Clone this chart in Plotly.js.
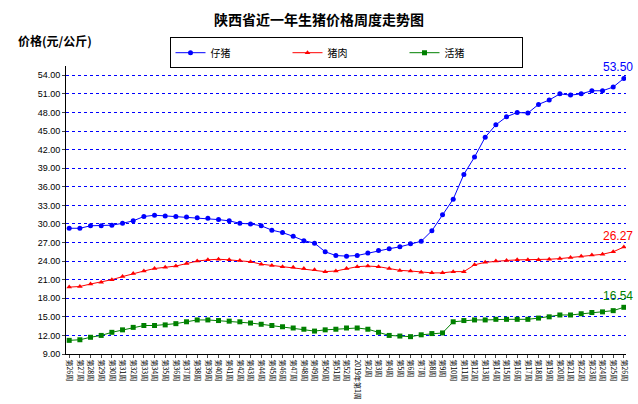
<!DOCTYPE html>
<html><head><meta charset="utf-8">
<script src="https://cdn.plot.ly/plotly-3.0.1.min.js"></script>
<style>body{margin:0}#chart{width:638px;height:404px}</style>
</head><body><div id="chart"></div>
<script>
// Week labels: 第26周..第52周, 2019年第1周, 第2周..第26周
const weeks = [];
for (let w = 26; w <= 52; w++) weeks.push("第" + w + "周");
weeks.push("2019年第1周");
for (let w = 2; w <= 26; w++) weeks.push("第" + w + "周");

const piglet = [29.3,29.3,29.7,29.7,29.8,30.1,30.5,31.2,31.4,31.3,31.2,31.1,31.0,30.9,30.7,30.5,30.1,30.0,29.7,29.0,28.6,28.0,27.3,26.9,25.5,24.9,24.8,24.9,25.3,25.7,26.0,26.3,26.8,27.2,28.9,31.5,34.0,38.0,40.8,44.0,46.0,47.3,48.0,47.9,49.3,50.0,51.0,50.8,51.0,51.5,51.5,52.1,53.5];
const pork = [19.8,19.9,20.3,20.6,21.0,21.5,22.0,22.4,22.8,23.0,23.2,23.6,24.0,24.2,24.3,24.2,24.1,23.9,23.5,23.3,23.1,23.0,22.8,22.6,22.3,22.4,22.8,23.1,23.2,23.1,22.8,22.5,22.4,22.2,22.1,22.1,22.3,22.3,23.4,23.8,24.0,24.1,24.2,24.2,24.2,24.3,24.4,24.6,24.8,25.0,25.1,25.5,26.27];
const hog = [11.2,11.3,11.7,12.0,12.5,12.9,13.3,13.6,13.6,13.7,13.9,14.2,14.5,14.5,14.4,14.3,14.2,14.0,13.8,13.6,13.4,13.2,13.0,12.7,12.9,13.0,13.2,13.2,13.0,12.5,12.0,11.9,11.8,12.1,12.3,12.4,14.2,14.4,14.5,14.5,14.6,14.6,14.6,14.6,14.8,15.0,15.3,15.3,15.5,15.7,15.8,16.0,16.54];

const yTicks = [];
for (let v = 9; v <= 54; v += 3) yTicks.push(v);

const colors = ["#0000ff", "#ff0000", "#008000"];
const idx = weeks.map((_, i) => i);

function series(name, y, color, symbol) {
  return {
    x: idx, y: y, name: name, mode: "lines+markers",
    line: { color: color, width: 1 },
    marker: { color: color, symbol: symbol, size: 5 }
  };
}

const last = weeks.length - 1;
const labels = [[piglet, "53.50", colors[0]], [pork, "26.27", colors[1]], [hog, "16.54", colors[2]]].map(([arr, t, c]) => ({
  x: last, y: arr[last], text: t, showarrow: false, yshift: 11, xshift: -6,
  font: { color: c, size: 12, family: "Arial" }
}));

Plotly.newPlot("chart", [
  series("仔猪", piglet, colors[0], "circle"),
  series("猪肉", pork, colors[1], "triangle-up"),
  series("活猪", hog, colors[2], "square")
], {
  width: 638, height: 404,
  margin: { l: 66, r: 12, t: 66, b: 50 },
  paper_bgcolor: "#fff", plot_bgcolor: "#fff",
  font: { family: "Noto Sans CJK SC", size: 10, color: "#000" },
  title: { text: "<b>陕西省近一年生猪价格周度走势图</b>", x: 0.5, xanchor: "center", y: 0.95, yanchor: "middle", font: { size: 14 } },
  showlegend: true,
  legend: { orientation: "h", x: 0.5, xanchor: "center", y: 1.1, yanchor: "top",
    bordercolor: "#000", borderwidth: 1, font: { size: 10 }, entrywidth: 72 },
  xaxis: {
    tickvals: idx, ticktext: weeks, tickangle: 90, range: [-0.3, last + 0.2],
    tickfont: { size: 7 }, showgrid: false, showline: true, linecolor: "#000",
    ticks: "outside", ticklen: 3, zeroline: false
  },
  yaxis: {
    range: [9, 55.5], tickvals: yTicks, ticktext: yTicks.map(v => v.toFixed(2)),
    tickfont: { size: 9, family: "Arial" }, showline: true, linecolor: "#000",
    gridcolor: "#0000ff", griddash: "dot", gridwidth: 1, ticks: "outside", ticklen: 3, zeroline: false
  },
  annotations: [
    { xref: "paper", yref: "paper", x: -0.09, y: 1.09, xanchor: "left", yanchor: "middle", showarrow: false,
      text: "<b>价格(元/公斤)</b>", font: { size: 12 } },
    ...labels
  ]
}, { displayModeBar: false });
</script></body></html>
